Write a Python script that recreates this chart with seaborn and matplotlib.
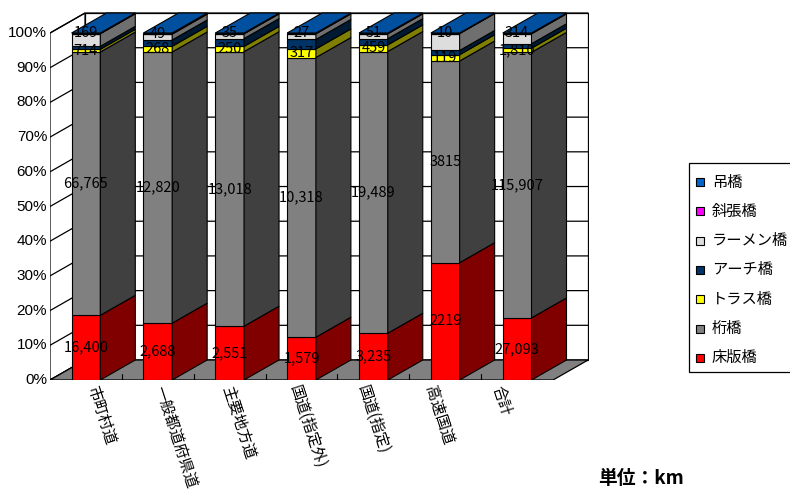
import numpy as np
import pandas as pd
import matplotlib
matplotlib.use("Agg")
import matplotlib.pyplot as plt
from matplotlib.patches import Rectangle, Polygon
from matplotlib.colors import to_rgb
import seaborn as sns

# Bridge length by road class (km), stacked bottom -> top
routes = ["市町村道", "一般都道府県道", "主要地方道", "国道(指定外)", "国道(指定)", "高速国道", "合計"]
series = ["床版橋", "桁橋", "トラス橋", "アーチ橋", "ラーメン橋", "斜張橋", "吊橋"]

slab = [16400, 2688, 2551, 1579, 3235, 2219, 27093]
girder = [66765, 12820, 13018, 10318, 19489, 3815, 115907]
truss = [714, 268, 250, 317, 459, 119, 1810]
arch = [750, 300, 370, 350, 430, 80, 1930]
rigid_frame = [3200, 280, 230, 210, 340, 320, 4370]
cable_stayed = [0, 0, 0, 0, 0, 0, 0]
suspension = [169, 49, 35, 27, 51, 10, 314]

y_ticks = [0, 10, 20, 30, 40, 50, 60, 70, 80, 90, 100]
labelled_series = ["床版橋", "桁橋", "トラス橋", "吊橋"]
use_thousands_sep = [True, True, True, True, True, False, True]

colors = {
    "床版橋": "#FF0000",
    "桁橋": "#808080",
    "トラス橋": "#FFFF00",
    "アーチ橋": "#003366",
    "ラーメン橋": "#DDDDDD",
    "斜張橋": "#FF00FF",
    "吊橋": "#0066CC",
}

sns.set_theme(style="white")
plt.rcParams["font.family"] = ["Noto Sans CJK JP", "DejaVu Sans"]

df = pd.DataFrame(
    {
        "床版橋": slab, "桁橋": girder, "トラス橋": truss, "アーチ橋": arch,
        "ラーメン橋": rigid_frame, "斜張橋": cable_stayed, "吊橋": suspension,
    },
    index=routes,
)[series]
pct = df.div(df.sum(axis=1), axis=0) * 100
bottoms = pct.cumsum(axis=1) - pct

W = 0.4      # bar width (category units)
DX = 0.487   # depth offset, x (category units)
DY = 5.76    # depth offset, y (percent units)


def shade(c, f):
    r, g, b = to_rgb(c)
    return (r * f, g * f, b * f)


fig = plt.figure(figsize=(7.9, 5.0), dpi=100)
ax = fig.add_axes([50 / 790, 120 / 500, 539 / 790, 367.8 / 500])

n = len(routes)
x0, x1 = -0.5, n - 0.5

# back wall and left wall
ax.add_patch(Polygon([(x0 + DX, DY), (x1 + DX, DY), (x1 + DX, 100 + DY), (x0 + DX, 100 + DY)],
                     closed=True, facecolor="white", edgecolor="black", lw=0.9, zorder=0))
ax.add_patch(Polygon([(x0, 0), (x0, 100), (x0 + DX, 100 + DY), (x0 + DX, DY)],
                     closed=True, facecolor="white", edgecolor="black", lw=0.9, zorder=0))
for k in y_ticks:
    ax.plot([x0, x0 + DX, x1 + DX], [k, k + DY, k + DY], color="black", lw=0.9, zorder=1)
    ax.text(x0 - 0.04, k, f"{k}%", ha="right", va="center", fontsize=11,
            family=["Liberation Sans", "DejaVu Sans"], color="black", clip_on=False)

# floor
ax.add_patch(Polygon([(x0, 0), (x1, 0), (x1 + DX, DY), (x0 + DX, DY)],
                     closed=True, facecolor="#808080", edgecolor="black", lw=0.9, zorder=2))
for k in range(1, n):
    ax.plot([k - 0.5, k - 0.5], [0, 1.6], color="black", lw=0.8, zorder=2)

# front faces of the stacked bars
for s in series:
    sns.barplot(x=routes, y=pct[s].values, order=routes, bottom=bottoms[s].values,
                color=colors[s], saturation=1, width=W, errorbar=None,
                edgecolor="black", linewidth=0.8, ax=ax, zorder=3)
ax.set_xlim(-0.5, 7.0)
ax.set_ylim(0, 106)
ax.axis("off")

# side and top faces
for i, r in enumerate(routes):
    xr = i + W / 2
    for s in series:
        b = bottoms.loc[r, s]
        t = b + pct.loc[r, s]
        ax.add_patch(Polygon([(xr, b), (xr + DX, b + DY), (xr + DX, t + DY), (xr, t)],
                             closed=True, facecolor=shade(colors[s], 0.5),
                             edgecolor="black", lw=0.8, zorder=4))
    top = bottoms.loc[r, series[-1]] + pct.loc[r, series[-1]]
    ax.add_patch(Polygon([(i - W / 2, top), (i - W / 2 + DX, top + DY),
                          (i + W / 2 + DX, top + DY), (i + W / 2, top)],
                         closed=True, facecolor=shade(colors[series[-1]], 0.78),
                         edgecolor="black", lw=0.8, zorder=4))

# value labels
for i, r in enumerate(routes):
    for s in labelled_series:
        v = df.loc[r, s]
        txt = f"{v:,}" if use_thousands_sep[i] else f"{v}"
        ax.text(i, bottoms.loc[r, s] + pct.loc[r, s] / 2, txt, ha="center", va="center",
                fontsize=10.5, color="black", zorder=10)

# category labels
for i, r in enumerate(routes):
    ax.text(0.079 + 0.939 * i, -1.7, r, rotation=-72, rotation_mode="anchor",
            ha="left", va="center", fontsize=11, color="black", clip_on=False)

# legend
fig.patches.append(Rectangle((689 / 790, 1 - 372 / 500), 120 / 790, 209 / 500,
                             transform=fig.transFigure, facecolor="white",
                             edgecolor="black", lw=0.9, zorder=5))
for k, s in enumerate(reversed(series)):
    yc = 182 + 29.3 * k
    fig.patches.append(Rectangle((696 / 790, 1 - (yc + 4) / 500), 8 / 790, 8 / 500,
                                 transform=fig.transFigure, facecolor=colors[s],
                                 edgecolor="black", lw=0.8, zorder=6))
    fig.text(712 / 790, 1 - yc / 500, s, ha="left", va="center", fontsize=11,
             color="black", zorder=7)

fig.text(598 / 790, 1 - 478 / 500, "単位：km", ha="left", va="center",
         fontsize=13.5, fontweight="bold", color="black")

fig.savefig("out.png", dpi=100, facecolor="white")
